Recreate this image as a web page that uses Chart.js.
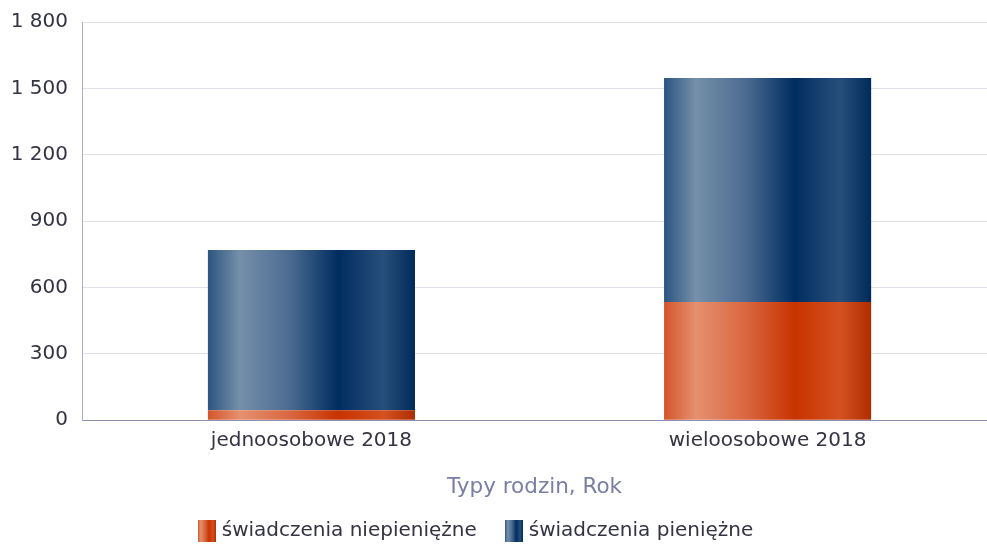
<!DOCTYPE html>
<html>
<head>
<meta charset="utf-8">
<script src="https://cdn.jsdelivr.net/npm/chart.js@4/dist/chart.umd.min.js"></script>
<style>
html,body{margin:0;padding:0;background:#fff;}
#wrap{width:987px;height:546px;position:relative;}
</style>
</head>
<body>
<div id="wrap"><canvas id="c" width="987" height="546"></canvas></div>
<script>
const categories = ['jednoosobowe 2018', 'wieloosobowe 2018'];
const seriesNames = ['świadczenia niepieniężne', 'świadczenia pieniężne'];
const niepieniezne = [45, 534];
const pieniezne = [724, 1013];
const axisTitle = 'Typy rodzin, Rok';

const FONT = "'DejaVu Sans', Verdana, sans-serif";
const stopsOrange = [[0,'#d4552b'],[0.155,'#e5906f'],[0.4,'#d9663f'],[0.63,'#c83300'],[0.85,'#d45120'],[1,'#b02d00']];
const stopsBlue = [[0,'#2c5581'],[0.155,'#7690aa'],[0.4,'#4a6a90'],[0.63,'#002d60'],[0.85,'#284f7b'],[1,'#002a5a']];
const BAR_PCT = 0.454;
const LEGEND_SHIFT_X = -16;
const LEGEND_SHIFT_Y = -2;

function makeGrad(ctx, x0, x1, stops){
  const g = ctx.createLinearGradient(x0, 0, x1, 0);
  stops.forEach(s => g.addColorStop(s[0], s[1]));
  return g;
}
function barFill(stops){
  return (c) => {
    const chart = c.chart;
    if (!chart.chartArea || c.type !== 'data') return stops[3][1];
    const xs = chart.scales.x;
    const unit = Math.abs(xs.getPixelForValue(1) - xs.getPixelForValue(0));
    const w = unit * BAR_PCT;
    const cx = xs.getPixelForValue(c.raw.x);
    return makeGrad(chart.ctx, cx - w/2, cx + w/2, stops);
  };
}
function legendImg(stops){
  const cv = document.createElement('canvas');
  cv.width = 18; cv.height = 22;
  const cx = cv.getContext('2d');
  cx.fillStyle = makeGrad(cx, 0, 18, stops);
  cx.fillRect(0, 0, 18, 22);
  return cv;
}
const legendImgs = [legendImg(stopsOrange), legendImg(stopsBlue)];

const toPts = arr => arr.map((v, i) => ({x: i, y: v}));
const fmt = v => String(v).replace(/\B(?=(\d{3})+(?!\d))/g, ' ');

const shiftLegend = {
  id: 'shiftLegend',
  afterLayout(chart){
    const lg = chart.legend;
    if (lg) {
      lg.left += LEGEND_SHIFT_X; lg.right += LEGEND_SHIFT_X;
      lg.top += LEGEND_SHIFT_Y; lg.bottom += LEGEND_SHIFT_Y;
    }
  }
};

new Chart(document.getElementById('c'), {
  type: 'bar',
  data: {
    datasets: [
      {label: seriesNames[0], data: toPts(niepieniezne), backgroundColor: barFill(stopsOrange), pointStyle: legendImgs[0]},
      {label: seriesNames[1], data: toPts(pieniezne), backgroundColor: barFill(stopsBlue), pointStyle: legendImgs[1]}
    ]
  },
  plugins: [shiftLegend],
  options: {
    responsive: false,
    animation: false,
    devicePixelRatio: 1,
    barPercentage: BAR_PCT,
    categoryPercentage: 1,
    layout: {padding: {left: 0, right: 0, top: 22, bottom: -7}},
    scales: {
      x: {
        type: 'linear',
        stacked: true,
        bounds: 'data',
        offset: false,
        min: -0.503,
        max: 1.481,
        afterBuildTicks: s => { s.ticks = categories.map((_, i) => ({value: i})); },
        grid: {display: false, drawTicks: false},
        border: {color: '#8e90b2', width: 1},
        ticks: {
          autoSkip: false,
          maxRotation: 0,
          padding: 9,
          color: '#333344',
          font: {family: FONT, size: 20},
          callback: v => categories[v] !== undefined ? categories[v] : ''
        },
        title: {display: true, text: axisTitle, color: '#7a7ea4', font: {family: FONT, size: 21.5}, padding: {top: 12, bottom: -9}}
      },
      y: {
        stacked: true,
        min: 0,
        max: 1800,
        grid: {color: '#e0e0ea', drawTicks: false},
        border: {color: '#a9abc6', width: 1},
        ticks: {
          stepSize: 300,
          padding: 14,
          color: '#333344',
          font: {family: FONT, size: 20},
          callback: v => fmt(v)
        },
        afterFit: s => { s.width = 82; s.paddingTop = 0; s.paddingBottom = 0; }
      }
    },
    plugins: {
      legend: {
        position: 'bottom',
        labels: {
          usePointStyle: true,
          boxWidth: 10,
          boxHeight: 22,
          padding: 32,
          color: '#333344',
          font: {family: FONT, size: 20}
        }
      },
      tooltip: {enabled: false}
    }
  }
});
</script>
</body>
</html>
